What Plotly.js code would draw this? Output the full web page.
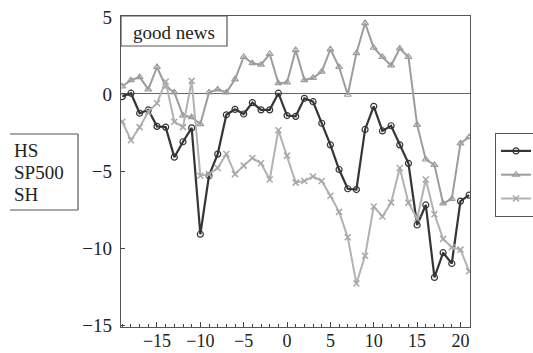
<!DOCTYPE html>
<html>
<head>
<meta charset="utf-8">
<script src="https://cdn.plot.ly/plotly-3.0.1.min.js"></script>
<style>html,body{margin:0;padding:0;background:#fff;}#chart{width:533px;height:353px;}</style>
</head>
<body>
<div id="chart"></div>
<script>
var days = [-19,-18,-17,-16,-15,-14,-13,-12,-11,-10,-9,-8,-7,-6,-5,-4,-3,-2,-1,0,1,2,3,4,5,6,7,8,9,10,11,12,13,14,15,16,17,18,19,20,21];
var hs = [-0.17,0.05,-1.25,-1.03,-2.1,-2.15,-4.1,-3.1,-2.2,-9.1,-5.3,-3.9,-1.35,-1.0,-1.3,-0.56,-1.03,-1.03,0.05,-1.4,-1.45,-0.28,-0.5,-1.9,-3.3,-4.9,-6.15,-6.2,-2.3,-0.8,-2.4,-2.06,-3.3,-4.5,-8.5,-7.2,-11.9,-10.3,-11.0,-6.95,-6.56];
var sp500 = [0.5,0.9,1.1,0.3,1.75,0.5,0.1,-1.4,-1.5,-1.95,0.1,0.3,0.1,0.95,2.4,2.0,1.9,2.6,0.7,0.75,2.85,0.9,1.05,1.45,2.9,1.75,-0.05,2.65,4.6,3.0,2.4,1.85,2.95,2.4,-2.0,-4.25,-4.6,-7.1,-6.8,-3.2,-2.8];
var sh = [-1.8,-3.0,-2.15,-1.15,-0.6,0.8,-1.8,-2.15,0.85,-5.3,-5.2,-4.8,-3.9,-5.2,-4.65,-4.15,-4.5,-5.55,-2.35,-4.0,-5.75,-5.65,-5.35,-5.65,-6.6,-7.65,-9.3,-12.3,-10.5,-7.3,-7.95,-7.05,-4.8,-7.05,-8.1,-5.55,-7.8,-9.4,-9.95,-10.1,-11.5];
var seriesNames = ['HS','SP500','SH'];
var boxLabel = 'good news';
var yTicks = [-15,-10,-5,0,5];
var xTicks = [-15,-10,-5,0,5,10,15,20];

var FONT = 'Liberation Serif, Times New Roman, serif';

// Legend entries show only the line symbols (their labels lie beyond the
// picture's edge in the reference); the series names are drawn in the left box.
var traces = [
  {x: days, y: hs, name: '', legendrank: 1, mode: 'lines+markers',
   line: {color: '#353535', width: 2.2},
   marker: {symbol: 'circle-open', size: 6, color: '#353535', line: {width: 1.2}}},
  {x: days, y: sp500, name: '', legendrank: 2, mode: 'lines+markers',
   line: {color: '#9c9c9c', width: 2},
   marker: {symbol: 'triangle-up-open', size: 6, color: '#9c9c9c', line: {width: 1.2}}},
  {x: days, y: sh, name: '', legendrank: 3, mode: 'lines+markers',
   line: {color: '#b2b2b2', width: 2},
   marker: {symbol: 'x-thin-open', size: 6, color: '#a8a8a8', line: {width: 1.5}}}
];

function px2x(p){ return (p - 121) / 349; }
function py2y(p){ return (327 - p) / 311; }

var layout = {
  width: 533, height: 353,
  margin: {l: 121, r: 63, t: 16, b: 26, autoexpand: false},
  paper_bgcolor: '#fff', plot_bgcolor: '#fff',
  font: {family: FONT, size: 19, color: '#222'},
  showlegend: true,
  legend: {x: px2x(495), y: py2y(133), xanchor: 'left', yanchor: 'top',
           bordercolor: '#555', borderwidth: 1, bgcolor: '#fff',
           entrywidth: 80, entrywidthmode: 'pixels', traceorder: 'normal',
           font: {family: FONT, size: 16, color: '#222'}},
  xaxis: {range: [-19.15, 21.1], tickvals: xTicks, ticks: 'inside', ticklen: 5,
          tickcolor: '#444', showline: true, linecolor: '#555', linewidth: 1.2,
          mirror: true, showgrid: false, zeroline: false, ticklabelstandoff: -3,
          minor: {dtick: 1, ticks: 'inside', ticklen: 3, tickcolor: '#444', showgrid: false},
          tickfont: {family: FONT, size: 18, color: '#222'}},
  yaxis: {range: [-15.12, 5.06], tickvals: yTicks, ticks: 'inside', ticklen: 4,
          tickcolor: '#444', showline: true, linecolor: '#555', linewidth: 1.2,
          mirror: true, showgrid: false, zeroline: true, zerolinecolor: '#666',
          zerolinewidth: 1, ticklabelstandoff: 4,
          tickfont: {family: FONT, size: 19, color: '#222'}},
  shapes: [
    {type: 'rect', xref: 'paper', yref: 'paper', x0: 0, x1: px2x(227), y0: py2y(46), y1: 1,
     line: {color: '#555', width: 1.2}, fillcolor: 'rgba(0,0,0,0)'},
    {type: 'line', xref: 'paper', yref: 'paper', x0: px2x(10), x1: px2x(78), y0: py2y(134), y1: py2y(134),
     line: {color: '#555', width: 1.2}},
    {type: 'line', xref: 'paper', yref: 'paper', x0: px2x(10), x1: px2x(78), y0: py2y(210), y1: py2y(210),
     line: {color: '#555', width: 1.2}},
    {type: 'line', xref: 'paper', yref: 'paper', x0: px2x(78), x1: px2x(78), y0: py2y(134), y1: py2y(210),
     line: {color: '#555', width: 1.2}}
  ],
  annotations: [
    {xref: 'paper', yref: 'paper', x: px2x(174), y: py2y(32), text: boxLabel, showarrow: false,
     xanchor: 'center', yanchor: 'middle', font: {family: FONT, size: 19, color: '#222'}},
    {xref: 'paper', yref: 'paper', x: px2x(12), y: py2y(150), text: seriesNames[0], showarrow: false,
     xanchor: 'left', yanchor: 'middle', font: {family: FONT, size: 19, color: '#222'}},
    {xref: 'paper', yref: 'paper', x: px2x(12), y: py2y(172), text: seriesNames[1], showarrow: false,
     xanchor: 'left', yanchor: 'middle', font: {family: FONT, size: 19, color: '#222'}},
    {xref: 'paper', yref: 'paper', x: px2x(12), y: py2y(194), text: seriesNames[2], showarrow: false,
     xanchor: 'left', yanchor: 'middle', font: {family: FONT, size: 19, color: '#222'}}
  ]
};

Plotly.newPlot('chart', traces, layout, {displayModeBar: false, staticPlot: true});
</script>
</body>
</html>
